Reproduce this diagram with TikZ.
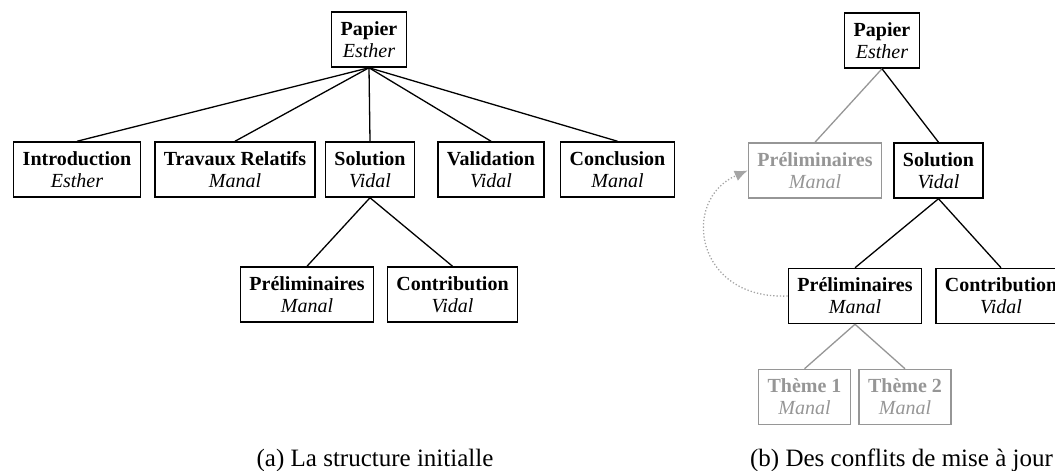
\documentclass[tikz,border=0pt]{standalone}
\usepackage{fontspec}
\setmainfont{Liberation Serif}
\usetikzlibrary{arrows.meta}
\definecolor{faded}{RGB}{150,150,150}
\definecolor{dotc}{RGB}{165,165,165}
\begin{document}
\begin{tikzpicture}[x=1pt,y=-1pt,
  box/.style={draw, line width=1.5pt, align=center, minimum height=55pt,
    inner xsep=9pt, inner ysep=0pt, font=\fontsize{20}{22}\selectfont},
  fadedbox/.style={box, draw=faded, text=faded},
  link/.style={line width=1.3pt},
  fadedlink/.style={link, draw=faded},
  captiontext/.style={anchor=base, inner sep=0pt, font=\fontsize{25}{28}\selectfont},
  moved/.style={draw=dotc, line width=1.3pt, dotted, -{Latex[length=13pt,width=11pt]}}
]
\useasboundingbox (0,0) rectangle (1055,471);
\clip (0,0) rectangle (1055,471);

% ---- (a) ----
\node[box] (ap) at (369,39.5) {\textbf{Papier}\\\textit{Esther}};
\node[box] (ai) at (77,169.5) {\textbf{Introduction}\\\textit{Esther}};
\node[box] (at) at (235,169.5) {\textbf{Travaux Relatifs}\\\textit{Manal}};
\node[box] (as) at (370,169.5) {\textbf{Solution}\\\textit{Vidal}};
\node[box] (av) at (491,169.5) {\textbf{Validation}\\\textit{Vidal}};
\node[box] (ac) at (617.5,169.5) {\textbf{Conclusion}\\\textit{Manal}};
\node[box] (apr) at (307,294.5) {\textbf{Préliminaires}\\\textit{Manal}};
\node[box] (aco) at (452.5,294.5) {\textbf{Contribution}\\\textit{Vidal}};

\foreach \c in {ai,at,as,av,ac} \draw[link] (ap.south) -- (\c.north);
\draw[link] (as.south) -- (apr.north);
\draw[link] (as.south) -- (aco.north);

\node[captiontext] (capa) at (375,466) {(a) La structure initialle};

% ---- (b) ----
\node[box] (bp) at (882,40.5) {\textbf{Papier}\\\textit{Esther}};
\node[fadedbox] (bpg) at (815,170.5) {\textbf{Préliminaires}\\\textit{Manal}};
\node[box] (bs) at (938.5,170.5) {\textbf{Solution}\\\textit{Vidal}};
\node[box] (bpr) at (855,296) {\textbf{Préliminaires}\\\textit{Manal}};
\node[box] (bco) at (1001,296) {\textbf{Contribution}\\\textit{Vidal}};
\node[fadedbox] (bt1) at (804.5,397) {\textbf{Thème 1}\\\textit{Manal}};
\node[fadedbox] (bt2) at (905,397) {\textbf{Thème 2}\\\textit{Manal}};

\draw[fadedlink] (bp.south) -- (bpg.north);
\draw[link] (bp.south) -- (bs.north);
\draw[link] (bs.south) -- (bpr.north);
\draw[link] (bs.south) -- (bco.north);
\draw[fadedlink] (bpr.south) -- (bt1.north);
\draw[fadedlink] (bpr.south) -- (bt2.north);

\draw[moved] (bpr.west) .. controls (695,300) and (680,200) .. (bpg.west);

\node[captiontext] (capb) at (901.5,466) {(b) Des conflits de mise à jour};
\end{tikzpicture}
\end{document}
